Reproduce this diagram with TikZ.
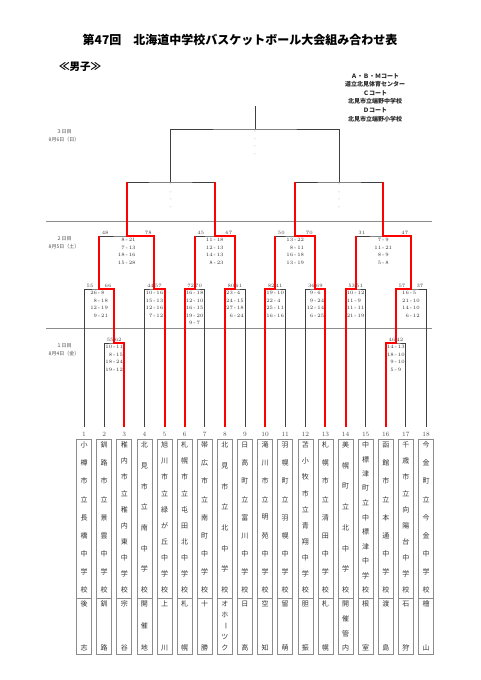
\documentclass[tikz,border=0pt]{standalone}
\usepackage{fontspec}
\newfontfamily\jp{Noto Sans CJK JP}
\usetikzlibrary{positioning}

\newcommand{\qs}[2]{\makebox[5pt][r]{#1}\,-\,\makebox[5pt][l]{#2}}

\begin{document}
\begin{tikzpicture}[
  x=1pt, y=-1pt,
  ln/.style={draw=black!75, line width=0.9pt},
  win/.style={draw=red, line width=2pt},
  sep/.style={draw=black!45, line width=0.5pt},
  ttl/.style={font=\jp\bfseries\fontsize{12}{14}\selectfont},
  sub/.style={font=\jp\bfseries\fontsize{10.5}{12}\selectfont},
  court/.style={font=\jp\bfseries\fontsize{6}{8.6}\selectfont, align=center, text=black!85},
  day/.style={font=\jp\fontsize{5}{8}\selectfont, align=center, text=black!70},
  pts/.style={font=\fontsize{5}{6}\selectfont, text=black!75, inner sep=1pt},
  qtr/.style={font=\fontsize{5}{7.6}\selectfont, text=black!80, align=center,
              anchor=north, inner sep=0pt, yshift=-2pt},
  blank/.style={qtr, text=black!35},
  num/.style={font=\fontsize{6.5}{8}\selectfont, text=black!70},
  namebox/.style={draw=black!45, line width=0.6pt, minimum width=15pt,
                  minimum height=215pt, inner sep=0pt},
  kanji/.style={font=\jp\fontsize{7}{8}\selectfont, text=black!80, inner sep=0pt}
]
  \useasboundingbox (0,0) rectangle (481,680);

  % heading
  \node[ttl] (title) at (240,40) {第47回　北海道中学校バスケットボール大会組み合わせ表};
  \node[sub] (boys) at (80,67) {≪男子≫};
  \node[court] (court) at (375,97.5) {Ａ・Ｂ・Ｍコート\\道立北見体育センター\\Ｃコート\\北見市立端野中学校\\Ｄコート\\北見市立端野小学校};

  % days
  \node[day] (d3) at (64,135.5) {３日目\\8月6日（日）};
  \node[day] (d2) at (64,243)   {２日目\\8月5日（土）};
  \node[day] (d1) at (64,350)   {１日目\\8月4日（金）};
  \draw[sep] (46,221) -- (432,221);
  \draw[sep] (46,328) -- (432,328);

  % teams and matches
  \foreach \i in {1,...,18}
    \coordinate (t\i) at ({63.9+20.12*\i},427);
  \coordinate (r1a) at (114.2,343);
  \coordinate (r1b) at (395.88,343);
  \coordinate (r2a) at (99.1,289);
  \coordinate (r2b) at (154.45,289);
  \coordinate (r2c) at (194.65,289);
  \coordinate (r2d) at (234.95,289);
  \coordinate (r2e) at (275.15,289);
  \coordinate (r2f) at (315.4,289);
  \coordinate (r2g) at (355.65,289);
  \coordinate (r2h) at (410.97,289);
  \coordinate (qf1) at (126.78,236);
  \coordinate (qf2) at (214.8,236);
  \coordinate (qf3) at (295.28,236);
  \coordinate (qf4) at (383.31,236);
  \coordinate (sf1) at (170.79,182);
  \coordinate (sf2) at (339.3,182);
  \coordinate (fin) at (255.04,129);
  \coordinate (top) at (255.04,106);

  % bracket
  \draw[ln] (t2) |- (r1a) -| (t3);
  \draw[ln] (t16) |- (r1b) -| (t17);
  \draw[ln] (t1) |- (r2a) -| (r1a);
  \draw[ln] (t4) |- (r2b) -| (t5);
  \draw[ln] (t6) |- (r2c) -| (t7);
  \draw[ln] (t8) |- (r2d) -| (t9);
  \draw[ln] (t10) |- (r2e) -| (t11);
  \draw[ln] (t12) |- (r2f) -| (t13);
  \draw[ln] (t14) |- (r2g) -| (t15);
  \draw[ln] (r1b) |- (r2h) -| (t18);
  \draw[ln] (r2a) |- (qf1) -| (r2b);
  \draw[ln] (r2c) |- (qf2) -| (r2d);
  \draw[ln] (r2e) |- (qf3) -| (r2f);
  \draw[ln] (r2g) |- (qf4) -| (r2h);
  \draw[ln] (qf1) |- (sf1) -| (qf2);
  \draw[ln] (qf3) |- (sf2) -| (qf4);
  \draw[ln] (sf1) |- (fin) -| (sf2);
  \draw[ln] (fin) -- (top);

  % winners
  \draw[win] (t3) |- (r1a) |- (r2a) -- (r2a |- qf1);
  \draw[win] (t5) |- (r2b) |- (qf1) -- (qf1 |- sf1);
  \draw[win] (t6) |- (r2c) -- (r2c |- qf2);
  \draw[win] (t8) |- (r2d) |- (qf2) -- (qf2 |- sf1);
  \draw[win] (t10) |- (r2e) -- (r2e |- qf3);
  \draw[win] (t13) |- (r2f) |- (qf3) -- (qf3 |- sf2);
  \draw[win] (t14) |- (r2g) -- (r2g |- qf4);
  \draw[win] (t16) |- (r1b) |- (r2h) |- (qf4) -- (qf4 |- sf2);

  % day 1 scores
  \node[pts, anchor=south west, xshift=1.5pt] at (r1a -| t2) {55};
  \node[pts, anchor=south east, xshift=-1.5pt] at (r1a -| t3) {62};
  \node[qtr] at (r1a) {\qs{10}{11}\\\qs{8}{15}\\\qs{18}{24}\\\qs{19}{12}};
  \node[pts, anchor=south west, xshift=1.5pt] at (r1b -| t16) {46};
  \node[pts, anchor=south east, xshift=-1.5pt] at (r1b -| t17) {42};
  \node[qtr] at (r1b) {\qs{14}{13}\\\qs{18}{10}\\\qs{9}{10}\\\qs{5}{9}};

  % day 2 scores
  \node[pts, anchor=south west, xshift=1.5pt] at (r2a -| t1) {55};
  \node[pts, anchor=south east, xshift=-1.5pt] at (r2a -| r1a) {66};
  \node[qtr] at (r2a) {\qs{26}{8}\\\qs{8}{18}\\\qs{12}{19}\\\qs{9}{21}};
  \node[pts, anchor=south west, xshift=1.5pt] at (r2b -| t4) {44};
  \node[pts, anchor=south east, xshift=-1.5pt] at (r2b -| t5) {57};
  \node[qtr] at (r2b) {\qs{10}{16}\\\qs{15}{13}\\\qs{12}{16}\\\qs{7}{12}};
  \node[pts, anchor=south west, xshift=1.5pt] at (r2c -| t6) {72};
  \node[pts, anchor=south east, xshift=-1.5pt] at (r2c -| t7) {70};
  \node[qtr] at (r2c) {\qs{16}{18}\\\qs{12}{10}\\\qs{16}{15}\\\qs{19}{20}\\\qs{9}{7}};
  \node[pts, anchor=south west, xshift=1.5pt] at (r2d -| t8) {80};
  \node[pts, anchor=south east, xshift=-1.5pt] at (r2d -| t9) {61};
  \node[qtr] at (r2d) {\qs{23}{4}\\\qs{24}{15}\\\qs{27}{18}\\\qs{6}{24}};
  \node[pts, anchor=south west, xshift=1.5pt] at (r2e -| t10) {82};
  \node[pts, anchor=south east, xshift=-1.5pt] at (r2e -| t11) {41};
  \node[qtr] at (r2e) {\qs{19}{10}\\\qs{22}{4}\\\qs{25}{11}\\\qs{16}{16}};
  \node[pts, anchor=south west, xshift=1.5pt] at (r2f -| t12) {36};
  \node[pts, anchor=south east, xshift=-1.5pt] at (r2f -| t13) {69};
  \node[qtr] at (r2f) {\qs{9}{6}\\\qs{9}{24}\\\qs{12}{14}\\\qs{6}{25}};
  \node[pts, anchor=south west, xshift=1.5pt] at (r2g -| t14) {53};
  \node[pts, anchor=south east, xshift=-1.5pt] at (r2g -| t15) {51};
  \node[qtr] at (r2g) {\qs{10}{12}\\\qs{11}{9}\\\qs{11}{11}\\\qs{21}{19}};
  \node[pts, anchor=south west, xshift=1.5pt] at (r2h -| r1b) {57};
  \node[pts, anchor=south east, xshift=-1.5pt] at (r2h -| t18) {37};
  \node[qtr] at (r2h) {\qs{16}{5}\\\qs{21}{10}\\\qs{14}{10}\\\qs{6}{12}};

  \node[pts, anchor=south west, xshift=1.5pt] at (qf1 -| r2a) {48};
  \node[pts, anchor=south east, xshift=-1.5pt] at (qf1 -| r2b) {78};
  \node[qtr] at (qf1) {\qs{8}{21}\\\qs{7}{13}\\\qs{18}{16}\\\qs{15}{28}};
  \node[pts, anchor=south west, xshift=1.5pt] at (qf2 -| r2c) {45};
  \node[pts, anchor=south east, xshift=-1.5pt] at (qf2 -| r2d) {67};
  \node[qtr] at (qf2) {\qs{11}{18}\\\qs{12}{13}\\\qs{14}{13}\\\qs{8}{23}};
  \node[pts, anchor=south west, xshift=1.5pt] at (qf3 -| r2e) {50};
  \node[pts, anchor=south east, xshift=-1.5pt] at (qf3 -| r2f) {70};
  \node[qtr] at (qf3) {\qs{13}{22}\\\qs{8}{11}\\\qs{16}{18}\\\qs{13}{19}};
  \node[pts, anchor=south west, xshift=1.5pt] at (qf4 -| r2g) {31};
  \node[pts, anchor=south east, xshift=-1.5pt] at (qf4 -| r2h) {47};
  \node[qtr] at (qf4) {\qs{7}{9}\\\qs{11}{21}\\\qs{8}{9}\\\qs{5}{8}};

  % day 3, not played yet
  \node[blank] at (sf1) {-\\-\\-\\-};
  \node[blank] at (sf2) {-\\-\\-\\-};
  \node[blank] at (fin) {-\\-\\-\\-};

  % team numbers and names
  \foreach \i/\n/\m/\nm/\ar in {
    1/9/2/{小,樽,市,立,長,橋,中,学,校}/{後,志},
    2/9/2/{釧,路,市,立,景,雲,中,学,校}/{釧,路},
    3/10/2/{稚,内,市,立,稚,内,東,中,学,校}/{宗,谷},
    4/8/3/{北,見,市,立,南,中,学,校}/{開,催,地},
    5/10/2/{旭,川,市,立,緑,が,丘,中,学,校}/{上,川},
    6/10/2/{札,幌,市,立,屯,田,北,中,学,校}/{札,幌},
    7/9/2/{帯,広,市,立,南,町,中,学,校}/{十,勝},
    8/8/5/{北,見,市,立,北,中,学,校}/{オ,ホ,{\rotatebox{-90}{ー}},ツ,ク},
    9/9/2/{日,高,町,立,富,川,中,学,校}/{日,高},
    10/9/2/{滝,川,市,立,明,苑,中,学,校}/{空,知},
    11/9/2/{羽,幌,町,立,羽,幌,中,学,校}/{留,萌},
    12/10/2/{苫,小,牧,市,立,青,翔,中,学,校}/{胆,振},
    13/9/2/{札,幌,市,立,清,田,中,学,校}/{札,幌},
    14/8/4/{美,幌,町,立,北,中,学,校}/{開,催,管,内},
    15/11/2/{中,標,津,町,立,中,標,津,中,学,校}/{根,室},
    16/9/2/{函,館,市,立,本,通,中,学,校}/{渡,島},
    17/10/2/{千,歳,市,立,向,陽,台,中,学,校}/{石,狩},
    18/9/2/{今,金,町,立,今,金,中,学,校}/{檜,山}} {
    \node[num, below=2pt of t\i] (n\i) {\i};
    \node[namebox] (s\i) at ({63.9+20.12*\i},546.5) {};
    \draw[draw=black!45, line width=0.6pt] (s\i.south west) ++(0,-56) -- ++(15,0);
    \foreach \c [count=\k] in \nm
      \node[kanji] at ({63.9+20.12*\i},{445+(\k-1)*145/(\n-1)}) {\c};
    \foreach \c [count=\k] in \ar
      \node[kanji] at ({63.9+20.12*\i},{604+(\k-1)*44/(\m-1)}) {\c};
  }
\end{tikzpicture}
\end{document}
